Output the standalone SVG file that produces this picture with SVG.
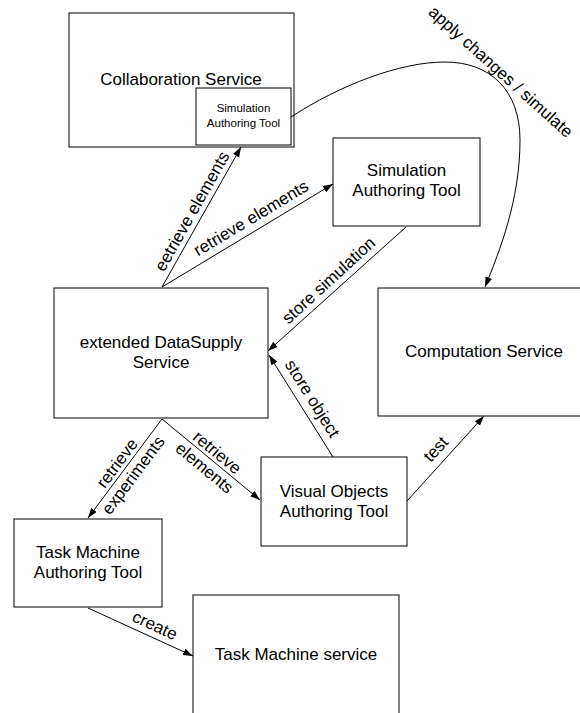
<svg xmlns="http://www.w3.org/2000/svg" width="580" height="713" viewBox="0 0 580 713">
<style>
.box{fill:#fff;stroke:#000;stroke-width:1}
.t{font-family:"Liberation Sans",Arial,sans-serif;font-size:17px;fill:#000;text-anchor:middle}
.s{font-size:11.5px}
.c{fill:none;stroke:#000;stroke-width:1}
</style>
<defs>
<marker id="ah" markerUnits="userSpaceOnUse" markerWidth="11" markerHeight="8" refX="10" refY="3.5" orient="auto">
<path d="M0,0 L10,3.5 L0,7 z" fill="#000"/>
</marker>
</defs>
<rect width="580" height="713" fill="#fff"/>
<g id="collab">
<rect class="box" x="69" y="13" width="225" height="134"/>
<text class="t" x="181" y="85">Collaboration Service</text>
</g>
<g id="collab-sim">
<rect class="box" x="196" y="88" width="95" height="57"/>
<text class="t s" x="243.5" y="112">Simulation</text>
<text class="t s" x="243.5" y="127">Authoring Tool</text>
</g>
<g id="sim">
<rect class="box" x="333" y="138" width="147" height="88"/>
<text class="t" x="406.5" y="176">Simulation</text>
<text class="t" x="406.5" y="196">Authoring Tool</text>
</g>
<g id="eds">
<rect class="box" x="54" y="288" width="214" height="130"/>
<text class="t" x="161" y="348">extended DataSupply</text>
<text class="t" x="161" y="368">Service</text>
</g>
<g id="comp">
<rect class="box" x="378" y="288" width="212" height="128"/>
<text class="t" x="484" y="357">Computation Service</text>
</g>
<g id="vis">
<rect class="box" x="261" y="457" width="146" height="89"/>
<text class="t" x="334" y="497">Visual Objects</text>
<text class="t" x="334" y="517">Authoring Tool</text>
</g>
<g id="tmat">
<rect class="box" x="14" y="519" width="148" height="88"/>
<text class="t" x="88" y="558">Task Machine</text>
<text class="t" x="88" y="578">Authoring Tool</text>
</g>
<g id="tms">
<rect class="box" x="193" y="595" width="206" height="140"/>
<text class="t" x="296" y="660">Task Machine service</text>
</g>
<g id="connectors">
<path class="c" d="M291,117 C340,85 400,62 445,62 C490,62 520,90 520,140 C520,200 500,250 485,287" marker-end="url(#ah)"/>
<text class="t" transform="translate(497,76) rotate(42)">apply changes / simulate</text>
<line class="c" x1="162" y1="287" x2="241" y2="147" marker-end="url(#ah)"/>
<text class="t" transform="translate(197,214) rotate(-60.6)">eetrieve elements</text>
<line class="c" x1="162" y1="287" x2="333" y2="184" marker-end="url(#ah)"/>
<text class="t" transform="translate(254,223) rotate(-31)">retrieve elements</text>
<line class="c" x1="406" y1="227" x2="268" y2="351" marker-end="url(#ah)"/>
<text class="t" transform="translate(332.5,284.5) rotate(-42.4)">store simulation</text>
<line class="c" x1="333" y1="457" x2="269" y2="355" marker-end="url(#ah)"/>
<text class="t" transform="translate(307.5,401.5) rotate(57.9)">store object</text>
<line class="c" x1="407" y1="501" x2="484" y2="416" marker-end="url(#ah)"/>
<text class="t" transform="translate(440,453) rotate(-47.5)">test</text>
<line class="c" x1="162" y1="419" x2="88" y2="518" marker-end="url(#ah)"/>
<g transform="translate(125,469) rotate(-53.2)">
<text class="t" x="0" y="-4">retrieve</text>
<text class="t" x="0" y="16">experiments</text>
</g>
<line class="c" x1="162" y1="419" x2="260" y2="500" marker-end="url(#ah)"/>
<g transform="translate(211,460) rotate(39.6)">
<text class="t" x="0" y="-4">retrieve</text>
<text class="t" x="0" y="16">elements</text>
</g>
<line class="c" x1="88" y1="608" x2="193" y2="656" marker-end="url(#ah)"/>
<text class="t" transform="translate(152.5,630.5) rotate(24.6)">create</text>
</g>
</svg>
